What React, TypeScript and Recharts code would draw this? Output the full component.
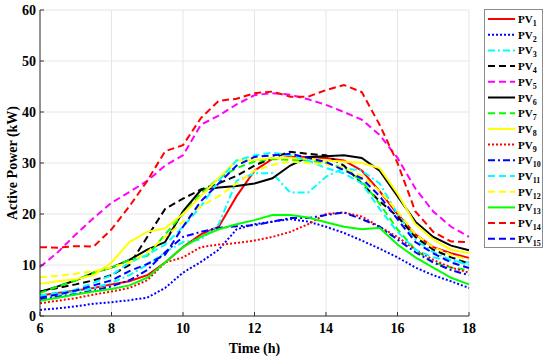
import { LineChart, Line, XAxis, YAxis, CartesianGrid } from "recharts";

const hours = [6, 6.5, 7, 7.5, 8, 8.5, 9, 9.5, 10, 10.5, 11, 11.5, 12, 12.5, 13, 13.5, 14, 14.5, 15, 15.5, 16, 16.5, 17, 17.5, 18];

const pv1 = [4.0, 4.5, 5.0, 5.5, 6.2, 6.8, 8.0, 10.5, 13.5, 16.0, 17.5, 23.5, 28.5, 30.8, 31.2, 31.2, 31.0, 30.5, 28.5, 24.5, 20.0, 16.0, 13.5, 12.3, 11.4];
const pv2 = [1.2, 1.5, 1.9, 2.4, 2.7, 3.1, 3.6, 5.5, 8.5, 10.6, 13.0, 17.0, 18.0, 18.5, 19.0, 18.5, 17.5, 16.3, 14.8, 13.2, 11.5, 9.5, 8.0, 6.8, 5.5];
const pv3 = [3.8, 4.2, 4.8, 5.5, 6.5, 8.0, 10.0, 12.5, 14.5, 15.0, 18.0, 26.5, 28.0, 28.0, 24.2, 24.2, 27.3, 29.0, 28.5, 26.0, 20.0, 15.0, 12.5, 11.0, 10.0];
const pv4 = [4.8, 5.5, 6.2, 7.0, 8.0, 10.0, 15.5, 21.0, 23.0, 24.8, 26.0, 27.5, 29.5, 31.0, 32.2, 31.8, 31.5, 29.5, 26.0, 22.5, 19.5, 15.5, 13.0, 11.5, 10.3];
const pv5 = [9.6, 12.5, 16.0, 19.2, 22.2, 24.3, 26.5, 29.5, 31.5, 37.5, 39.3, 41.5, 43.3, 43.7, 43.4, 42.5, 41.4, 40.0, 38.5, 35.5, 31.0, 25.0, 20.5, 17.5, 15.5];
const pv6 = [4.7, 5.8, 7.0, 8.5, 9.5, 11.0, 13.0, 14.5, 20.5, 24.7, 25.2, 25.5, 26.0, 27.0, 29.5, 31.2, 31.3, 31.5, 31.0, 28.5, 23.5, 18.5, 15.5, 13.8, 12.9];
const pv7 = [4.5, 5.8, 7.0, 8.5, 9.5, 11.0, 11.8, 16.0, 20.0, 24.0, 27.0, 29.0, 30.3, 30.8, 30.6, 30.5, 30.0, 29.0, 26.5, 22.0, 17.0, 13.0, 10.5, 9.5, 9.0];
const pv8 = [6.3, 6.8, 7.2, 8.0, 10.5, 14.5, 16.5, 17.2, 20.0, 23.5, 27.0, 30.5, 30.6, 31.0, 31.0, 30.8, 30.5, 30.3, 30.0, 29.0, 24.0, 18.0, 15.0, 13.0, 12.3];
const pv9 = [2.5, 3.0, 3.5, 4.2, 4.8, 5.5, 7.0, 10.5, 11.5, 13.5, 14.0, 14.3, 14.8, 15.5, 16.5, 18.0, 20.0, 20.3, 19.5, 17.5, 15.5, 13.0, 11.0, 9.5, 8.5];
const pv10 = [3.3, 3.8, 4.3, 5.0, 5.8, 7.0, 9.0, 12.5, 15.5, 16.5, 17.3, 17.6, 17.8, 18.5, 19.2, 19.2, 19.8, 20.3, 19.0, 17.5, 15.0, 12.5, 10.5, 9.0, 8.0];
const pv11 = [4.0, 4.5, 5.2, 6.5, 8.0, 10.5, 12.0, 14.0, 17.5, 21.5, 26.5, 30.5, 31.5, 32.0, 31.5, 30.5, 29.0, 28.0, 26.0, 21.0, 16.5, 13.0, 11.5, 10.8, 10.5];
const pv12 = [7.6, 7.9, 8.3, 8.8, 9.5, 10.5, 12.5, 15.5, 18.5, 21.5, 23.5, 26.0, 28.5, 29.6, 30.3, 30.0, 29.8, 29.0, 27.5, 24.5, 20.5, 16.0, 13.5, 12.0, 11.0];
const pv13 = [3.0, 3.6, 4.2, 4.8, 5.3, 6.0, 7.5, 10.5, 13.5, 15.5, 17.0, 18.0, 18.8, 19.8, 19.8, 19.3, 18.4, 17.5, 17.0, 17.3, 14.0, 11.5, 9.5, 7.5, 6.2];
const pv14 = [13.5, 13.4, 13.7, 13.6, 17.0, 21.5, 26.5, 32.3, 33.5, 38.8, 42.2, 42.6, 43.7, 44.0, 43.0, 43.0, 44.3, 45.3, 43.9, 37.5, 30.0, 20.5, 16.5, 14.6, 14.5];
const pv15 = [3.6, 4.2, 5.0, 6.0, 7.0, 8.8, 10.2, 12.0, 17.5, 22.5, 26.0, 29.5, 31.2, 31.5, 31.8, 31.0, 30.2, 28.6, 27.0, 23.5, 19.0, 14.5, 12.3, 10.5, 9.4];

const xTicks = [6, 8, 10, 12, 14, 16, 18];
const yTicks = [0, 10, 20, 30, 40, 50, 60];

const DASH = "7 4";
const DOT = "2 2";
const DASHDOT = "7 3 2 3";

const series = [
  { key: "pv1", values: pv1, name: "1", color: "#ff0000", dash: undefined },
  { key: "pv2", values: pv2, name: "2", color: "#0000ff", dash: DOT },
  { key: "pv3", values: pv3, name: "3", color: "#00ffff", dash: DASHDOT },
  { key: "pv4", values: pv4, name: "4", color: "#000000", dash: DASH },
  { key: "pv5", values: pv5, name: "5", color: "#ff00ff", dash: DASH },
  { key: "pv6", values: pv6, name: "6", color: "#000000", dash: undefined },
  { key: "pv7", values: pv7, name: "7", color: "#00ff00", dash: DASH },
  { key: "pv8", values: pv8, name: "8", color: "#ffff00", dash: undefined },
  { key: "pv9", values: pv9, name: "9", color: "#ff0000", dash: DOT },
  { key: "pv10", values: pv10, name: "10", color: "#0000ff", dash: DASHDOT },
  { key: "pv11", values: pv11, name: "11", color: "#00ffff", dash: DASH },
  { key: "pv12", values: pv12, name: "12", color: "#ffff00", dash: DASH },
  { key: "pv13", values: pv13, name: "13", color: "#00ff00", dash: undefined },
  { key: "pv14", values: pv14, name: "14", color: "#ff0000", dash: DASH },
  { key: "pv15", values: pv15, name: "15", color: "#0000ff", dash: DASH },
];

const data = hours.map((t, i) => {
  const row: Record<string, number> = { t };
  series.forEach((s) => {
    row[s.key] = s.values[i];
  });
  return row;
});

const font = "'Liberation Serif', 'Times New Roman', serif";

function PvLegend() {
  return (
    <svg
      width={60}
      height={240}
      style={{ position: "absolute", left: 484, top: 9 }}
    >
      <rect x={0.5} y={0.5} width={58} height={238} fill="#fff" stroke="#8c8c8c" />
      {series.map((s, i) => {
        const y = 10 + i * 15.7;
        return (
          <g key={s.key}>
            <line
              x1={4}
              x2={31}
              y1={y}
              y2={y}
              stroke={s.color}
              strokeWidth={2}
              strokeDasharray={s.dash}
            />
            <text
              x={34}
              y={y + 4}
              fontFamily={font}
              fontWeight="bold"
              fontSize={11}
              fill="#000"
            >
              PV
              <tspan fontSize={8} dy={3}>
                {s.name}
              </tspan>
            </text>
          </g>
        );
      })}
    </svg>
  );
}

export default function App() {
  return (
    <div
      style={{
        position: "absolute",
        left: 0,
        top: 0,
        width: 550,
        height: 359,
        background: "#fff",
      }}
    >
      <LineChart
        width={550}
        height={359}
        data={data}
        margin={{ top: 10, right: 81, bottom: 0, left: 0 }}
      >
        <CartesianGrid stroke="#e6e6e6" strokeWidth={1} />
        <XAxis
          dataKey="t"
          type="number"
          domain={[6, 18]}
          ticks={xTicks}
          height={43}
          stroke="#333"
          tickSize={-4}
          tickMargin={11}
          tick={{ fill: "#000", fontFamily: font, fontWeight: "bold", fontSize: 14 }}
          label={{
            value: "Time (h)",
            position: "insideBottom",
            offset: 6,
            style: { fill: "#000", fontFamily: font, fontWeight: "bold", fontSize: 14 },
          }}
        />
        <XAxis
          xAxisId="top"
          dataKey="t"
          type="number"
          domain={[6, 18]}
          orientation="top"
          height={0}
          tick={false}
          stroke="#333"
        />
        <YAxis
          type="number"
          domain={[0, 60]}
          ticks={yTicks}
          width={40}
          stroke="#333"
          tickSize={-4}
          tickMargin={8}
          tick={{ fill: "#000", fontFamily: font, fontWeight: "bold", fontSize: 14 }}
          label={{
            value: "Active Power (kW)",
            angle: -90,
            position: "insideLeft",
            offset: 12,
            style: {
              textAnchor: "middle",
              fill: "#000",
              fontFamily: font,
              fontWeight: "bold",
              fontSize: 14,
            },
          }}
        />
        <YAxis
          yAxisId="right"
          orientation="right"
          domain={[0, 60]}
          width={0}
          tick={false}
          stroke="#333"
        />
        {series.map((s) => (
          <Line
            key={s.key}
            type="linear"
            dataKey={s.key}
            stroke={s.color}
            strokeWidth={2}
            strokeDasharray={s.dash}
            dot={false}
            isAnimationActive={false}
          />
        ))}
      </LineChart>
      <PvLegend />
    </div>
  );
}
